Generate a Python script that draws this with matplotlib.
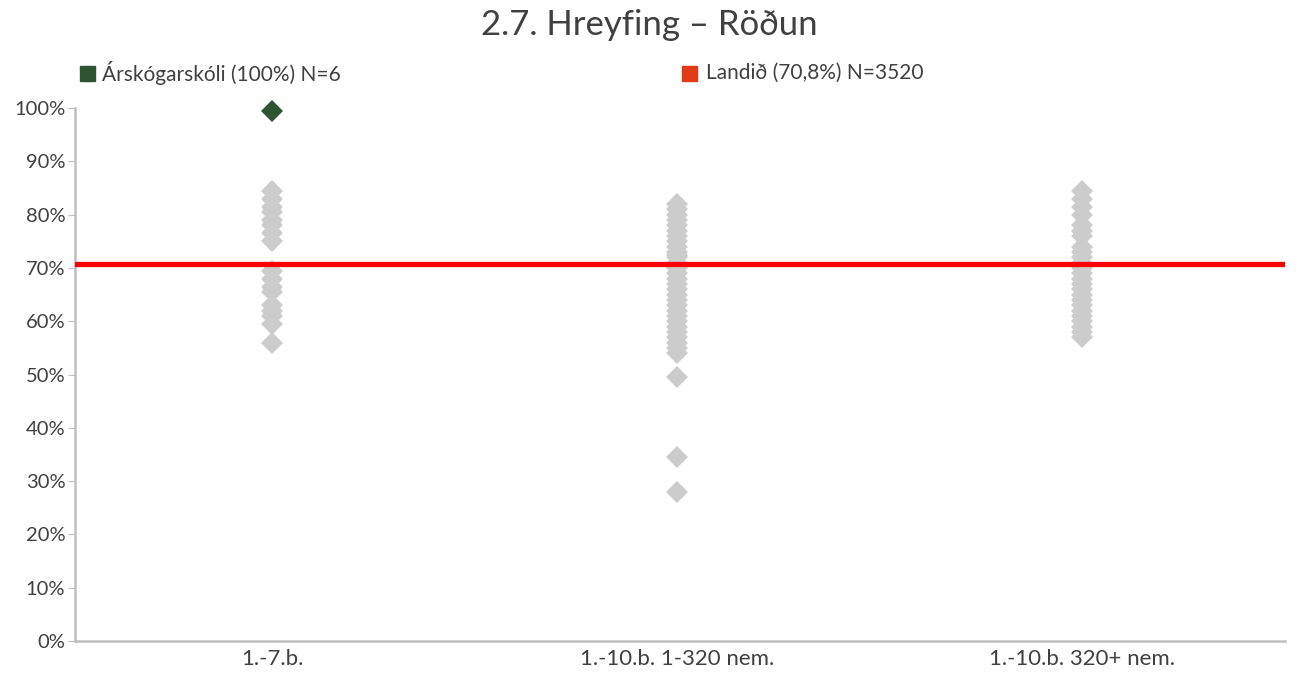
import matplotlib
matplotlib.use("Agg")
import matplotlib.pyplot as plt
from matplotlib.patches import Rectangle
from matplotlib.ticker import FuncFormatter

plt.rcParams['font.family'] = ['Lato', 'DejaVu Sans']

title = "2.7. Hreyfing – Röðun"
categories = ["1.-7.b.", "1.-10.b. 1-320 nem.", "1.-10.b. 320+ nem."]
school_label = "Árskógarskóli (100%) N=6"
national_label = "Landið (70,8%) N=3520"
school_category = 0
school_value = 0.995
national_value = 0.708

others_1 = [84.5, 83, 81.5, 80.5, 79, 78, 76.5, 75, 69.5, 68, 66.5, 65.5, 63, 62,
            61, 59.5, 56]
others_2 = [82, 81, 80, 79, 78, 77, 76, 75, 74, 73, 72.5, 72, 71, 70.5, 70, 69, 68,
            67, 66, 65, 64, 63, 62, 61, 60, 59, 58, 57, 56, 55, 54, 49.5, 34.5, 28]
others_3 = [84.5, 83, 81.5, 80, 78, 77, 76, 74, 73, 72, 71, 70, 69, 68, 67, 66, 65,
            64, 63, 62, 61, 60, 59, 58, 57]
others = [others_1, others_2, others_3]
yticks = [0, 0.1, 0.2, 0.3, 0.4, 0.5, 0.6, 0.7, 0.8, 0.9, 1.0]

fig = plt.figure(figsize=(12.98, 6.73), dpi=100)
ax = fig.add_axes([0.0578, 0.0475, 0.932, 0.792])

for i, vals in enumerate(others):
    ax.plot([i] * len(vals), [v / 100 for v in vals], linestyle='none', marker='D',
            markersize=11.5, color='#CCCCCC', markeredgewidth=0, zorder=2)

ax.axhline(national_value, color='#FF0000', linewidth=3.8, zorder=3)
ax.plot([school_category], [school_value], linestyle='none', marker='D',
        markersize=11.5, color='#2E5530', markeredgewidth=0, zorder=4, clip_on=False)

ax.set_xlim(-0.486, 2.5)
ax.set_ylim(0, 1.0)
ax.set_yticks(yticks)
ax.yaxis.set_major_formatter(FuncFormatter(lambda v, p: f"{int(round(v * 100))}%"))
ax.set_xticks(range(len(categories)))
ax.set_xticklabels(categories)

for s in ['top', 'right']:
    ax.spines[s].set_visible(False)
for s in ['left', 'bottom']:
    ax.spines[s].set_color('#BFBFBF')
    ax.spines[s].set_linewidth(1.8)
ax.tick_params(axis='y', length=5, color='#BFBFBF', labelsize=14.5, labelcolor='#404040', pad=2)
ax.tick_params(axis='x', length=0, labelsize=16, labelcolor='#404040', pad=6)

fig.text(0.5, 1 - 25 / 673, title, ha='center', va='center', fontsize=25, color='#404040')

fig.patches.append(Rectangle((80 / 1298, 1 - 81 / 673), 15 / 1298, 15 / 673,
                             transform=fig.transFigure, color='#2E5530', figure=fig))
fig.text(102 / 1298, 1 - 73 / 673, school_label, ha='left', va='center', fontsize=15,
         color='#404040')
fig.patches.append(Rectangle((682 / 1298, 1 - 81 / 673), 15 / 1298, 15 / 673,
                             transform=fig.transFigure, color='#E03A16', figure=fig))
fig.text(706 / 1298, 1 - 73 / 673, national_label, ha='left', va='center', fontsize=15,
         color='#404040')

fig.savefig("out.png", dpi=100)
